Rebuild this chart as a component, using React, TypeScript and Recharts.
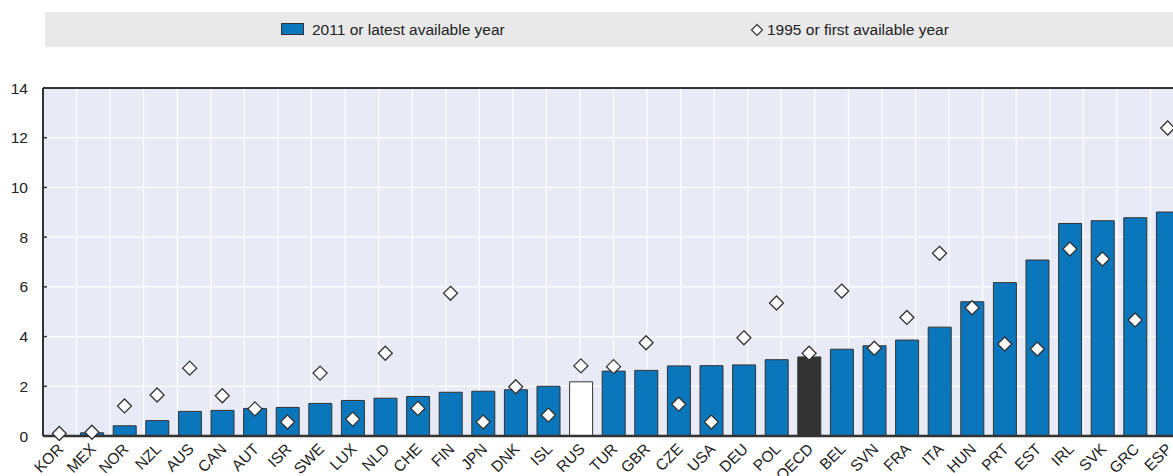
import React from 'react';
import { ComposedChart, Bar, Line, XAxis, YAxis, CartesianGrid, ReferenceLine, Cell } from 'recharts';

const categories = ['KOR','MEX','NOR','NZL','AUS','CAN','AUT','ISR','SWE','LUX','NLD','CHE','FIN','JPN','DNK','ISL','RUS','TUR','GBR','CZE','USA','DEU','POL','OECD','BEL','SVN','FRA','ITA','HUN','PRT','EST','IRL','SVK','GRC','ESP'];
const latestYear = [0, 0.13, 0.41, 0.62, 0.99, 1.03, 1.11, 1.15, 1.31, 1.43, 1.52, 1.59, 1.76, 1.8, 1.86, 2.0, 2.18, 2.61, 2.64, 2.82, 2.83, 2.86, 3.07, 3.18, 3.49, 3.63, 3.86, 4.38, 5.4, 6.17, 7.08, 8.55, 8.66, 8.78, 9.01];
const firstYear = [0.1, 0.15, 1.21, 1.65, 2.73, 1.62, 1.09, 0.56, 2.53, 0.68, 3.33, 1.11, 5.74, 0.56, 1.98, 0.84, 2.82, 2.79, 3.75, 1.28, 0.56, 3.95, 5.35, 3.33, 5.83, 3.53, 4.77, 7.35, 5.16, 3.7, 3.5, 7.52, 7.12, 4.67, 12.39];
const yTicks = [0, 2, 4, 6, 8, 10, 12, 14];
const seriesNames = ['2011 or latest available year', '1995 or first available year'];

const data = categories.map((name, i) => ({ name, latest: latestYear[i], first: firstYear[i] }));
const boundaryTicks = categories.slice(1).map((_, i) => i + 1);

const BLUE = '#0a77bd';
const DARK = '#333333';
const FONT = '"Liberation Sans", Arial, sans-serif';

const barFill = (name: string) => (name === 'RUS' ? '#ffffff' : name === 'OECD' ? DARK : BLUE);

const Diamond = (props: any) => {
  const { cx, cy, value } = props;
  if (value == null || cx == null || cy == null) return <g />;
  const r = 7;
  return (
    <polygon
      points={`${cx},${cy - r} ${cx + r},${cy} ${cx},${cy + r} ${cx - r},${cy}`}
      fill="#ffffff"
      stroke={DARK}
      strokeWidth={1.3}
    />
  );
};

const XTick = (props: any) => {
  const { x, y, payload } = props;
  const px = x + 5;
  const py = y + 6;
  return (
    <text
      x={px}
      y={py}
      transform={`rotate(-45 ${px} ${py})`}
      textAnchor="end"
      fontSize={15.5}
      fontFamily={FONT}
      fill="#222"
    >
      {payload.value}
    </text>
  );
};

const EmptyTick = () => <g />;

export default function App() {
  return (
    <div style={{ position: 'absolute', left: 0, top: 0, width: 1173, height: 476, overflow: 'hidden', background: '#fff', fontFamily: FONT }}>
      <div style={{ position: 'absolute', left: 45, top: 12, width: 1128, height: 35, background: '#e9e9ea' }}>
        <div style={{ position: 'absolute', left: 236, top: 11, width: 23, height: 12, background: BLUE, border: `1px solid ${DARK}`, boxSizing: 'border-box' }} />
        <div style={{ position: 'absolute', left: 267, top: 0, height: 35, lineHeight: '35px', fontSize: 15.5, color: '#222', whiteSpace: 'nowrap' }}>{seriesNames[0]}</div>
        <svg style={{ position: 'absolute', left: 705, top: 11 }} width={14} height={14}>
          <polygon points="7,1.5 12.5,7 7,12.5 1.5,7" fill="#fff" stroke={DARK} strokeWidth={1.2} />
        </svg>
        <div style={{ position: 'absolute', left: 722, top: 0, height: 35, lineHeight: '35px', fontSize: 15.5, color: '#222', whiteSpace: 'nowrap' }}>{seriesNames[1]}</div>
      </div>
      <ComposedChart width={1184} height={476} data={data} margin={{ top: 88, right: 0, bottom: 0, left: 0 }}>
        <CartesianGrid xAxisId="b" fill="#e8ebf6" stroke="#ffffff" strokeWidth={1.2} />
        <XAxis
          dataKey="name"
          type="category"
          height={40}
          interval={0}
          tickLine={false}
          tickSize={0}
          tickMargin={8}
          tick={<XTick />}
          axisLine={{ stroke: DARK, strokeWidth: 2.5 }}
        />
        <XAxis
          xAxisId="b"
          type="number"
          domain={[0, categories.length]}
          allowDataOverflow
          ticks={boundaryTicks}
          mirror
          height={0}
          tickSize={5}
          tick={EmptyTick}
          axisLine={false}
          tickLine={{ stroke: DARK, strokeWidth: 2 }}
        />
        <YAxis
          type="number"
          domain={[0, 14]}
          ticks={yTicks}
          width={43}
          interval={0}
          tickSize={-4}
          tickMargin={19}
          tickLine={{ stroke: DARK, strokeWidth: 1.5 }}
          axisLine={{ stroke: DARK, strokeWidth: 2 }}
          tick={{ fontSize: 15.5, fill: '#222', fontFamily: FONT }}
        />
        <ReferenceLine y={14} stroke={DARK} strokeWidth={2} ifOverflow="visible" />
        <Bar dataKey="latest" barSize={23} stroke={DARK} strokeWidth={1} isAnimationActive={false}>
          {data.map((d) => (
            <Cell key={d.name} fill={barFill(d.name)} />
          ))}
        </Bar>
        <Line dataKey="first" stroke="none" dot={<Diamond />} activeDot={false} isAnimationActive={false} legendType="none" />
      </ComposedChart>
    </div>
  );
}
